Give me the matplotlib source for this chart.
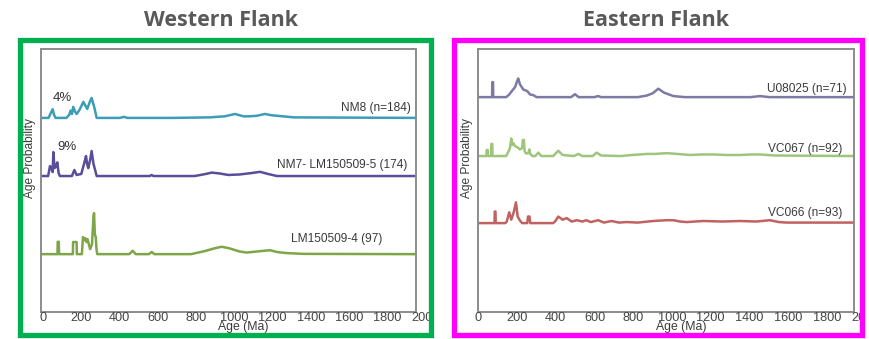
import matplotlib
matplotlib.use("Agg")
import matplotlib.pyplot as plt
from matplotlib.patches import Rectangle

plt.rcParams['font.family'] = ['Liberation Sans', 'DejaVu Sans']

# ---- data (age in Ma, relative probability as % of axis height) ----
ticks = [0, 200, 400, 600, 800, 1000, 1200, 1400, 1600, 1800, 2000]

nm8_age = [0, 40, 50, 62, 70, 78, 135, 150, 158, 165, 172, 182, 190, 205, 226, 237, 247, 258, 270, 285, 297,
           420, 443, 460, 700, 900, 980, 1035, 1080, 1110, 1150, 1195, 1230, 1260, 1350, 2000]
nm8_prob = [0, 0, 1.5, 3.3, 1.1, 0, 0, 1.1, 2.8, 1.5, 4.2, 2.3, 1.5, 3.0, 6.1, 4.6, 3.4, 5.7, 7.6, 3.8, 0,
            0, 0.4, 0, 0, 0.2, 0.6, 1.5, 0.6, 0.6, 0.8, 1.5, 1.0, 0.8, 0.2, 0]

nm7_age = [0, 38, 44, 48, 55, 62, 66, 72, 78, 87, 94, 101, 165, 178, 190, 215, 232, 240, 246, 252, 262, 270, 280, 297,
           580, 590, 600, 820, 880, 910, 950, 1000, 1060, 1120, 1168, 1210, 1258, 2000]
nm7_prob = [0, 0, 2.3, 3.8, 3.0, 1.5, 9.1, 3.0, 3.4, 5.2, 1.1, 0, 0, 2.3, 0.4, 0.8, 5.3, 7.6, 4.6, 3.0, 6.1, 9.5, 4.6, 0,
            0, 0.4, 0, 0, 0.8, 1.3, 1.0, 0.4, 0.6, 1.1, 1.6, 0.8, 0, 0]

lm4_age = [0, 88, 89, 95, 96, 170, 171, 190, 191, 218, 224, 230, 236, 242, 248, 262, 272, 280, 283, 287, 292, 296, 300,
           470, 489, 505, 575, 590, 605, 800, 870, 930, 964, 1000, 1060, 1097, 1150, 1221, 1260, 1310, 1400, 2000]
lm4_prob = [0, 0, 4.7, 4.7, 0, 0, 4.6, 4.6, 0, 0, 6.5, 5.3, 6.1, 4.6, 5.7, 1.9, 3.8, 14.4, 15.6, 7.6, 6.5, 1.9, 0,
            0, 1.3, 0, 0, 0.8, 0, 0, 1.1, 2.3, 2.8, 2.3, 1.0, 0.6, 1.0, 1.5, 0.8, 0.4, 0.1, 0]

u08_age = [0, 75, 76, 80, 81, 150, 166, 180, 197, 208, 214, 223, 241, 262, 277, 293, 312, 495, 516, 535, 620, 638, 655,
           850, 898, 930, 959, 990, 1039, 1100, 1450, 1500, 1550, 2000]
u08_prob = [0, 0, 5.7, 5.7, 0, 0, 1.0, 2.3, 3.8, 6.1, 7.1, 4.9, 2.9, 2.3, 1.0, 0.8, 0, 0, 1.1, 0, 0, 0.4, 0,
            0, 0.6, 1.5, 3.2, 1.7, 0.4, 0, 0, 0.4, 0, 0]

vc067_age = [0, 45, 46, 52, 53, 70, 71, 76, 77, 150, 161, 170, 177, 182, 188, 197, 210, 223, 235, 238, 244, 248, 255,
             268, 273, 278, 290, 305, 321, 337, 400, 427, 450, 510, 534, 555, 610, 631, 655, 760, 818, 860, 898, 940,
             1004, 1060, 1128, 1190, 1251, 1320, 1394, 1450, 1500, 1580, 2000]
vc067_prob = [0, 0, 2.3, 2.3, 0, 0, 4.6, 4.6, 0, 0, 1.6, 3.0, 6.7, 4.2, 4.9, 3.8, 3.3, 2.5, 3.0, 6.1, 6.1, 1.9, 1.0,
              1.1, 2.5, 0.8, 0, 0, 1.3, 0, 0, 2.0, 0.4, 0, 0.8, 0, 0, 1.3, 0.2, 0, 0.4, 0.6, 0.8, 0.8,
              1.1, 0.8, 0.4, 0.6, 0.6, 0.4, 0.4, 0.6, 0.6, 0.2, 0]

vc066_age = [0, 88, 89, 93, 94, 145, 153, 166, 177, 191, 202, 211, 223, 235, 262, 266, 274, 278, 290, 400, 412, 427,
             450, 472, 498, 525, 555, 575, 600, 639, 670, 710, 750, 790, 850, 932, 1003, 1039, 1075, 1110, 1197,
             1300, 1394, 1480, 1553, 1600, 1642, 2000]
vc066_prob = [0, 0, 4.4, 4.4, 0, 0, 0.6, 4.1, 1.3, 4.4, 7.9, 2.5, 1.0, 0, 0, 2.5, 2.5, 0, 0, 0, 0.8, 2.5,
              1.3, 1.9, 0.6, 1.1, 0.6, 1.1, 0.4, 1.1, 0.2, 0.8, 0.2, 0.4, 0.2, 0.8, 1.1, 1.1, 0.6, 0.4, 0.8,
              0.6, 0.8, 0.6, 1.1, 0.4, 0.2, 0.2]

west_names = ['NM8 (n=184)', 'NM7- LM150509-5 (174)', 'LM150509-4 (97)']
east_names = ['U08025 (n=71)', 'VC067 (n=92)', 'VC066 (n=93)']
west_offsets = [73.8, 51.7, 22.0]
east_offsets = [81.7, 59.3, 33.8]

west = [(nm8_age, nm8_prob), (nm7_age, nm7_prob), (lm4_age, lm4_prob)]
east = [(u08_age, u08_prob), (vc067_age, vc067_prob), (vc066_age, vc066_prob)]
west_colors = ['#3d9db5', '#5a4d9a', '#7ea648']
east_colors = ['#7d7aa6', '#9dc67c', '#c0625f']

W, H = 869, 339
fig = plt.figure(figsize=(W / 100, H / 100), dpi=100)


def panel(x0, x1, series, names, offsets, colors, label_x, label_dy, tick_shift, tick_stretch):
    ax = fig.add_axes([x0 / W, (H - 312) / H, (x1 - x0) / W, 263 / H])
    for (age, prob), off, c in zip(series, offsets, colors):
        ax.plot(age, [p + off for p in prob], color=c, lw=1.8, solid_joinstyle='round')
    for name, off, lx, dy in zip(names, offsets, label_x, label_dy):
        ax.text(lx, off + dy, name, ha='right', va='center', fontsize=8.6, color='#3a3a3a')
    ax.set_xlim(0, 2000)
    ax.set_ylim(0, 100)
    ax.set_xticks([])
    ax.set_yticks([])
    # tick labels sit slightly stretched to the right in the original figure
    for t in ticks:
        ax.text(tick_shift + t * tick_stretch, -0.024, str(t), transform=ax.get_xaxis_transform(),
                ha='center', va='center', fontsize=9.2, color='#444444', clip_on=False)
    for s in ax.spines.values():
        s.set_color('#8c8c8c')
        s.set_linewidth(1.4)
    ax.set_xlabel('Age (Ma)', fontsize=8.8, color='#3a3a3a')
    ax.xaxis.set_label_coords(0.54, -0.036)
    ax.set_ylabel('Age Probability', fontsize=8.6, color='#3a3a3a')
    ax.yaxis.set_label_coords(-0.014, 0.587)
    return ax


axw = panel(41, 416, west, west_names, west_offsets, west_colors, [1973, 1952, 1819], [3.8, 4.2, 5.8],
            9, 1.021)
axw.text(112, 81.4, '4%', ha='center', va='center', fontsize=9.5, color='#333333')
axw.text(139, 62.7, '9%', ha='center', va='center', fontsize=9.5, color='#333333')
axe = panel(478, 854, east, east_names, east_offsets, east_colors, [1963, 1936, 1936], [3.1, 2.7, 3.8],
            2, 1.03)

# white mask to clip the "2000" labels beyond the frames
fig.add_artist(Rectangle((434 / W, 0), 17 / W, 1, transform=fig.transFigure,
                         facecolor='white', edgecolor='none', zorder=9))
fig.add_artist(Rectangle((865 / W, 0), 4 / W, 1, transform=fig.transFigure,
                         facecolor='white', edgecolor='none', zorder=9))

# coloured frames
fig.add_artist(Rectangle((20 / W, (H - 335) / H), 411 / W, 295 / H, transform=fig.transFigure,
                         fill=False, edgecolor='#00b050', lw=3.8, zorder=10))
fig.add_artist(Rectangle((454 / W, (H - 335) / H), 408 / W, 295 / H, transform=fig.transFigure,
                         fill=False, edgecolor='#ff00ff', lw=3.8, zorder=10))

fig.text(221 / W, 1 - 20 / H, 'Western Flank', ha='center', va='center', fontsize=15.5,
         fontweight='bold', color='#595959', family=['Open Sans', 'DejaVu Sans'])
fig.text(656 / W, 1 - 20 / H, 'Eastern Flank', ha='center', va='center', fontsize=15.5,
         fontweight='bold', color='#595959', family=['Open Sans', 'DejaVu Sans'])

fig.savefig('out.png', dpi=100)
